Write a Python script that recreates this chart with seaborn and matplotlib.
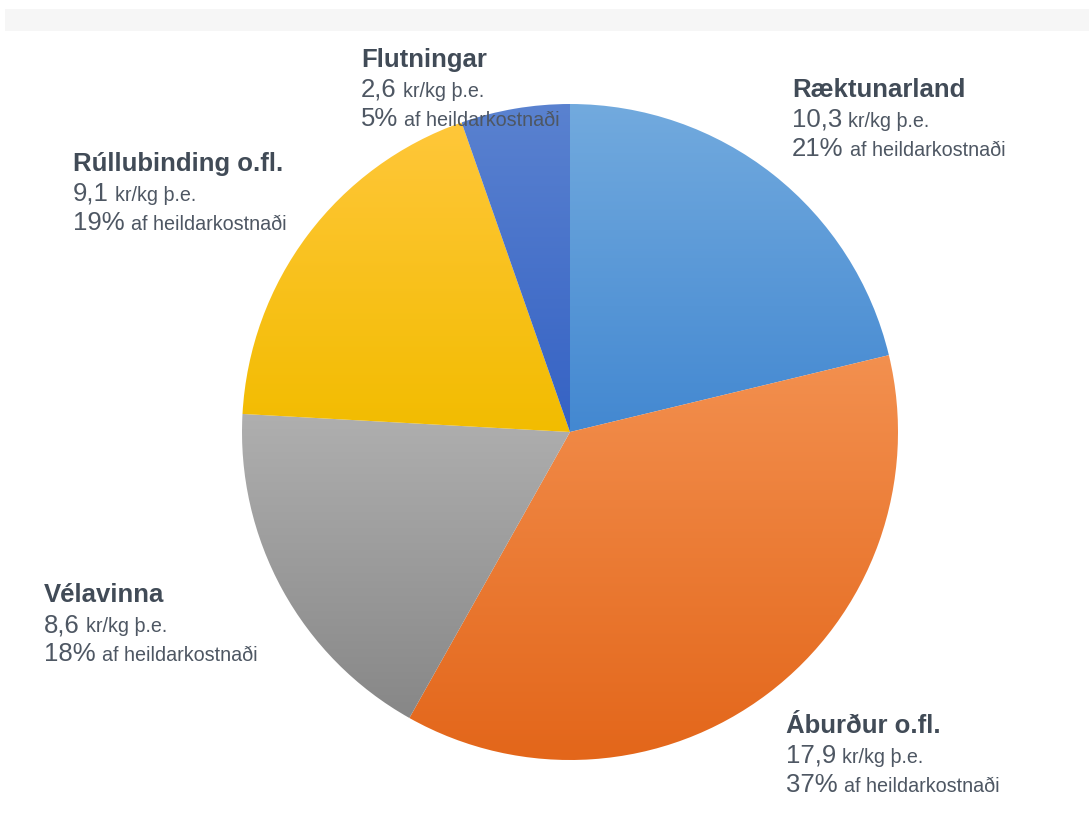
import numpy as np
import matplotlib
matplotlib.use("Agg")
import matplotlib.pyplot as plt
from matplotlib.colors import LinearSegmentedColormap
from matplotlib.patches import Rectangle
import seaborn as sns

# ─── DATA ────────────────────────────────────────────────────
categories = ["Ræktunarland", "Áburður o.fl.", "Vélavinna", "Rúllubinding o.fl.", "Flutningar"]
cost_kr    = [10.3, 17.9, 8.6, 9.1, 2.6]
cost_text  = ["10,3", "17,9", "8,6", "9,1", "2,6"]
share_pct  = [21, 37, 18, 19, 5]

# ─── STYLE ───────────────────────────────────────────────────
sns.set_theme(style="white")
plt.rcParams["font.family"] = ["Liberation Sans", "DejaVu Sans"]

W, H = 1089, 828
top_colors    = ["#72aade", "#f3904f", "#afafaf", "#ffc73a", "#5a82d0"]
bottom_colors = ["#4388d1", "#e3661a", "#878787", "#f2bc00", "#3562c4"]
TITLE_C = "#414b57"
TEXT_C  = "#4e5763"

# label anchor (left x, baseline y of first line) in image pixels
label_pos = [(792, 97), (786, 733), (44, 602), (73, 171), (361, 67)]

fig = plt.figure(figsize=(W / 100, H / 100), dpi=100)
ax = fig.add_axes([0, 0, 1, 1])

# light grey band at the top
ax.add_patch(Rectangle((5, H - 32), W - 5, 22, color="#f6f6f6", lw=0, zorder=0))

cx, cy, R = 570, H - 433, 328
wedges, _ = ax.pie(cost_kr, startangle=90, counterclock=False,
                   center=(cx, cy), radius=R,
                   wedgeprops=dict(linewidth=0))

# vertical gradient per slice, clipped to the wedge
for w, c_top, c_bot in zip(wedges, top_colors, bottom_colors):
    bb = w.get_path().get_extents(w.get_patch_transform())
    cmap = LinearSegmentedColormap.from_list("g", [c_bot, c_top])
    grad = np.linspace(0, 1, 256).reshape(-1, 1)
    im = ax.imshow(grad, cmap=cmap, origin="lower", aspect="auto",
                   extent=(bb.x0, bb.x1, bb.y0, bb.y1), zorder=1,
                   interpolation="bilinear")
    im.set_clip_path(w)
    w.set_facecolor("none")

ax.set_xlim(0, W)
ax.set_ylim(0, H)
ax.set_aspect("equal")
ax.axis("off")

# ─── LABELS ──────────────────────────────────────────────────
renderer = fig.canvas.get_renderer()


def after(t, gap=6):
    return t.get_window_extent(renderer).x1 + gap


for name, num, pct, (x, y) in zip(categories, cost_text, share_pct, label_pos):
    ax.text(x, H - y, name, fontsize=18.5, fontweight="bold", color=TITLE_C,
            va="baseline", zorder=5)
    t1 = ax.text(x, H - y - 30, num, fontsize=18.5, color=TEXT_C,
                 va="baseline", zorder=5)
    ax.text(after(t1), H - y - 30, "kr/kg þ.e.", fontsize=14.2, color=TEXT_C,
            va="baseline", zorder=5)
    t2 = ax.text(x, H - y - 59, f"{pct}%", fontsize=18.5, color=TEXT_C,
                 va="baseline", zorder=5)
    ax.text(after(t2), H - y - 59, "af heildarkostnaði", fontsize=14.2, color=TEXT_C,
            va="baseline", zorder=5)

fig.savefig("out.png", dpi=100, facecolor="white")
